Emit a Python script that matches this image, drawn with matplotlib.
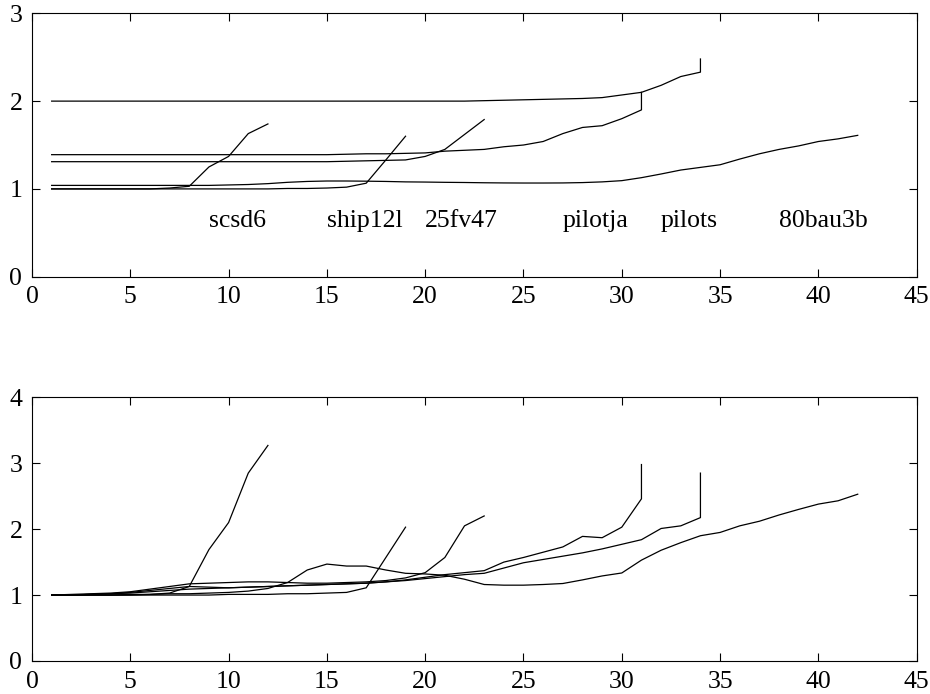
from matplotlib import pyplot as plt
import numpy as np

plt.rcParams["font.family"] = ["Liberation Serif", "DejaVu Serif"]
plt.rcParams["font.size"] = 18.5

# problem names and where their labels go on the upper plot
names = ["scsd6", "ship12l", "25fv47", "pilotja", "pilots", "80bau3b"]
label_x = [9, 15, 20, 27, 32, 38]
label_y = 0.64

# upper plot values (the last two problems end with a repeated x)
top_scsd6 = [1.0, 1.0, 1.0, 1.0, 1.0, 1.0, 1.01, 1.03, 1.25, 1.37, 1.63, 1.74]
top_ship12l = [1.0, 1.0, 1.0, 1.0, 1.0, 1.0, 1.0, 1.0, 1.0, 1.0, 1.0, 1.0,
               1.005, 1.005, 1.01, 1.02, 1.065, 1.33, 1.60]
top_25fv47 = [1.31, 1.31, 1.31, 1.31, 1.31, 1.31, 1.31, 1.31, 1.31, 1.31,
              1.31, 1.31, 1.31, 1.31, 1.31, 1.315, 1.32, 1.325, 1.33, 1.37,
              1.45, 1.62, 1.79]
top_pilotja = [1.39, 1.39, 1.39, 1.39, 1.39, 1.39, 1.39, 1.39, 1.39, 1.39,
               1.39, 1.39, 1.39, 1.39, 1.39, 1.395, 1.40, 1.40, 1.405, 1.41,
               1.43, 1.44, 1.45, 1.48, 1.50, 1.54, 1.63, 1.70, 1.72, 1.80,
               1.90, 2.10]
top_pilots = [2.0, 2.0, 2.0, 2.0, 2.0, 2.0, 2.0, 2.0, 2.0, 2.0, 2.0, 2.0,
              2.0, 2.0, 2.0, 2.0, 2.0, 2.0, 2.0, 2.0, 2.0, 2.0, 2.005, 2.01,
              2.015, 2.02, 2.025, 2.03, 2.04, 2.07, 2.10, 2.18, 2.28, 2.33,
              2.48]
top_80bau3b = [1.04, 1.04, 1.04, 1.04, 1.04, 1.04, 1.04, 1.04, 1.04, 1.045,
               1.05, 1.06, 1.075, 1.085, 1.09, 1.09, 1.088, 1.085, 1.08,
               1.078, 1.075, 1.073, 1.07, 1.068, 1.067, 1.067, 1.068, 1.072,
               1.08, 1.094, 1.128, 1.17, 1.215, 1.245, 1.275, 1.34, 1.40,
               1.45, 1.49, 1.54, 1.57, 1.61]

# lower plot values
bot_scsd6 = [1.0, 1.0, 1.0, 1.0, 1.0, 1.01, 1.03, 1.13, 1.69, 2.10, 2.85, 3.27]
bot_ship12l = [1.0, 1.0, 1.0, 1.0, 1.0, 1.0, 1.0, 1.0, 1.0, 1.01, 1.01, 1.01,
               1.02, 1.02, 1.03, 1.04, 1.11, 1.57, 2.03]
bot_25fv47 = [1.0, 1.01, 1.02, 1.03, 1.05, 1.09, 1.13, 1.17, 1.18, 1.19,
              1.20, 1.20, 1.19, 1.18, 1.18, 1.19, 1.20, 1.22, 1.26, 1.34,
              1.57, 2.05, 2.20]
bot_pilotja = [1.0, 1.0, 1.01, 1.02, 1.04, 1.07, 1.10, 1.13, 1.12, 1.11,
               1.12, 1.13, 1.14, 1.15, 1.16, 1.17, 1.18, 1.20, 1.23, 1.27,
               1.31, 1.34, 1.37, 1.50, 1.57, 1.65, 1.73, 1.89, 1.87, 2.03,
               2.46, 2.98]
bot_pilots = [1.0, 1.0, 1.01, 1.02, 1.03, 1.05, 1.07, 1.09, 1.10, 1.11, 1.12,
              1.13, 1.14, 1.15, 1.16, 1.17, 1.18, 1.20, 1.22, 1.25, 1.28,
              1.31, 1.33, 1.41, 1.49, 1.54, 1.59, 1.64, 1.70, 1.77, 1.84,
              2.01, 2.05, 2.175, 2.85]
bot_80bau3b = [1.0, 1.0, 1.0, 1.0, 1.01, 1.01, 1.02, 1.02, 1.03, 1.04, 1.06,
               1.10, 1.19, 1.38, 1.47, 1.44, 1.44, 1.38, 1.33, 1.32, 1.30,
               1.24, 1.16, 1.15, 1.15, 1.16, 1.175, 1.23, 1.29, 1.335, 1.53,
               1.68, 1.795, 1.90, 1.95, 2.05, 2.12, 2.215, 2.30, 2.38, 2.43,
               2.53]

top = [top_scsd6, top_ship12l, top_25fv47, top_pilotja, top_pilots, top_80bau3b]
bot = [bot_scsd6, bot_ship12l, bot_25fv47, bot_pilotja, bot_pilots, bot_80bau3b]
# problem sizes (x of the last point)
n_last = [12, 19, 23, 31, 34, 42]


def xs(y, n):
    x = np.arange(1, len(y) + 1, dtype=float)
    x[x > n] = n  # repeated final x gives the vertical jump
    return x


fig = plt.figure(figsize=(9.3, 6.94), dpi=100)
ax1 = fig.add_axes([0.0344, 0.6013, 0.9513, 0.3795])
ax2 = fig.add_axes([0.0344, 0.0476, 0.9513, 0.3799])

for y, n in zip(top, n_last):
    ax1.plot(xs(y, n), y, color="black", lw=0.9)
for y, n in zip(bot, n_last):
    ax2.plot(xs(y, n), y, color="black", lw=0.9)

for nm, lx in zip(names, label_x):
    ax1.text(lx, label_y, nm, va="center", ha="left")

ax1.set_ylim(0, 3)
ax1.set_yticks([0, 1, 2, 3])
ax2.set_ylim(0, 4)
ax2.set_yticks([0, 1, 2, 3, 4])

for ax in (ax1, ax2):
    ax.set_xlim(0, 45)
    ax.set_xticks(np.arange(0, 46, 5))
    ax.tick_params(direction="in", top=True, right=True, length=6, width=0.8,
                   pad=7)
    for s in ax.spines.values():
        s.set_linewidth(0.8)

plt.savefig("out.png")
